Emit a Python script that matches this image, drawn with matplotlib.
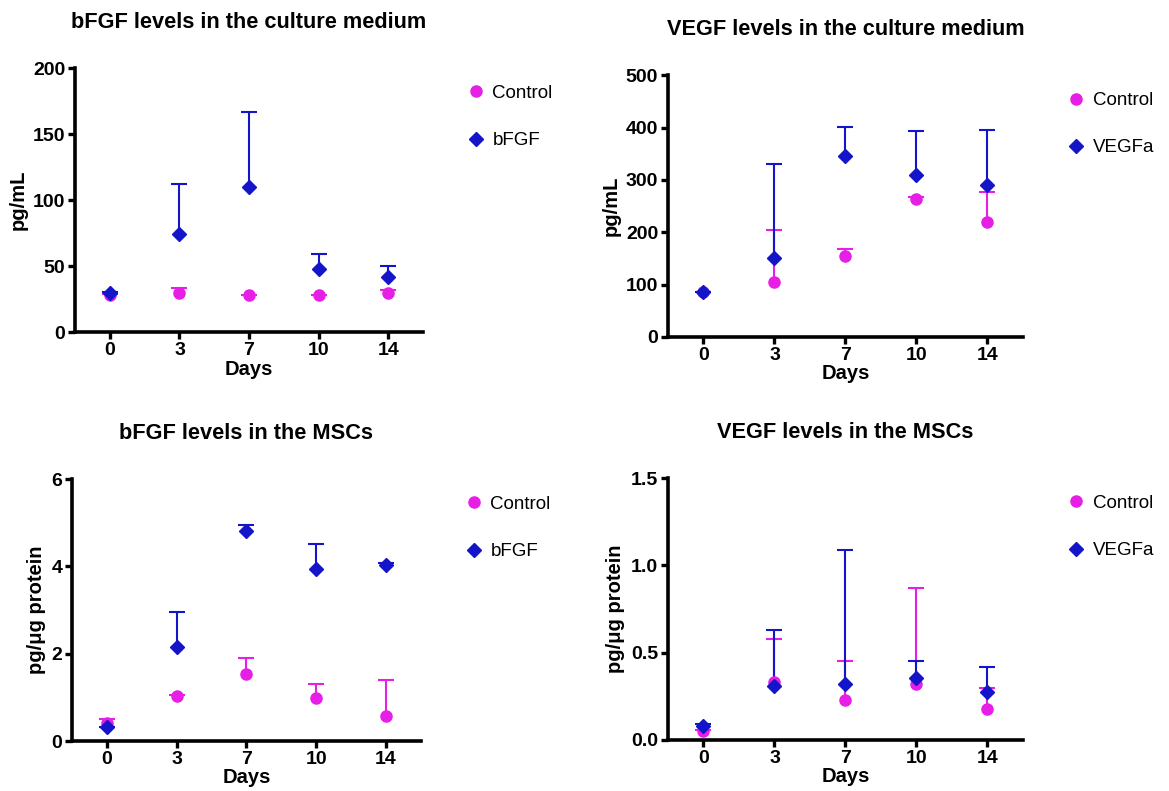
import numpy as np
import matplotlib
matplotlib.use("Agg")
import matplotlib.pyplot as plt

plt.rcParams['font.family'] = ['Liberation Sans', 'DejaVu Sans']

days = ["0", "3", "7", "10", "14"]

# bFGF in culture medium (pg/mL)
med_bfgf_ctrl = [28, 30, 28, 28, 30]
med_bfgf_ctrl_err = [1, 3.5, 0.5, 0.5, 2]
med_bfgf = [30, 74, 110, 48, 42]
med_bfgf_err = [0.5, 38, 57, 11.5, 8]

# VEGF in culture medium (pg/mL)
med_vegf_ctrl = [85, 105, 155, 263, 219]
med_vegf_ctrl_err = [1, 100, 13, 5, 57]
med_vegf = [85, 151, 345, 310, 291]
med_vegf_err = [1, 179, 56, 84, 104]

# bFGF in MSCs (pg/ug protein)
msc_bfgf_ctrl = [0.42, 1.03, 1.53, 0.99, 0.57]
msc_bfgf_ctrl_err = [0.08, 0.02, 0.38, 0.32, 0.82]
msc_bfgf = [0.31, 2.16, 4.82, 3.93, 4.04]
msc_bfgf_err = [0.02, 0.80, 0.13, 0.58, 0.04]

# VEGF in MSCs (pg/ug protein)
msc_vegf_ctrl = [0.054, 0.33, 0.23, 0.32, 0.18]
msc_vegf_ctrl_err = [0.005, 0.25, 0.22, 0.55, 0.12]
msc_vegf = [0.082, 0.31, 0.32, 0.354, 0.273]
msc_vegf_err = [0.01, 0.32, 0.77, 0.10, 0.145]

MAGENTA = '#E61EE6'
BLUE = '#1414C8'


def upper_errorbar(ax, x, y, err, fmt, color, ms, label):
    line, caps, bars = ax.errorbar(x, y, yerr=[np.zeros(len(y)), err], fmt=fmt, color=color,
                                   ms=ms, capsize=6, elinewidth=1.5, capthick=1.5)
    caps[0].set_visible(False)  # no cap at the bottom, only the upper half is shown
    line.set_label(label)
    return line


def draw_panel(ax, title, ylabel, ctrl, ctrl_err, treat, treat_err, treat_name, yticks, ylabels):
    x = np.arange(len(days))
    h1 = upper_errorbar(ax, x, ctrl, ctrl_err, 'o', MAGENTA, 8, "Control")
    h2 = upper_errorbar(ax, x, treat, treat_err, 'D', BLUE, 7.5, treat_name)
    ax.set_xlim(-0.5, 4.5)
    ax.set_ylim(yticks[0], yticks[-1])
    ax.set_xticks(x)
    ax.set_xticklabels(days, fontsize=14, fontweight='bold')
    ax.set_yticks(yticks)
    ax.set_yticklabels(ylabels, fontsize=14, fontweight='bold')
    ax.set_xlabel("Days", fontsize=14.5, fontweight='bold', labelpad=0.5)
    ax.set_ylabel(ylabel, fontsize=14.5, fontweight='bold', labelpad=4)
    ax.set_title(title, fontsize=15.7, fontweight='bold', pad=29)
    for s in ['top', 'right']:
        ax.spines[s].set_visible(False)
    for s in ['left', 'bottom']:
        ax.spines[s].set_linewidth(2.6)
    ax.tick_params(width=2.4, length=5, pad=2)
    ax.legend(handles=[h1, h2], loc='upper left', bbox_to_anchor=(1.07, 1.0), frameon=False,
              fontsize=13.5, labelspacing=1.6, handletextpad=0.3, handlelength=1.2)


fig = plt.figure(figsize=(11.69, 7.91), dpi=100)

ax1 = fig.add_axes([0.0642, 0.580, 0.2977, 0.334])
draw_panel(ax1, "bFGF levels in the culture medium", "pg/mL",
           med_bfgf_ctrl, med_bfgf_ctrl_err, med_bfgf, med_bfgf_err, "bFGF",
           [0, 50, 100, 150, 200], ["0", "50", "100", "150", "200"])

ax2 = fig.add_axes([0.5714, 0.574, 0.3037, 0.331])
draw_panel(ax2, "VEGF levels in the culture medium", "pg/mL",
           med_vegf_ctrl, med_vegf_ctrl_err, med_vegf, med_vegf_err, "VEGFa",
           [0, 100, 200, 300, 400, 500], ["0", "100", "200", "300", "400", "500"])

ax3 = fig.add_axes([0.0616, 0.0632, 0.2985, 0.3312])
draw_panel(ax3, "bFGF levels in the MSCs", "pg/\u03bcg protein",
           msc_bfgf_ctrl, msc_bfgf_ctrl_err, msc_bfgf, msc_bfgf_err, "bFGF",
           [0, 2, 4, 6], ["0", "2", "4", "6"])

ax4 = fig.add_axes([0.5714, 0.0645, 0.3037, 0.3312])
draw_panel(ax4, "VEGF levels in the MSCs", "pg/\u03bcg protein",
           msc_vegf_ctrl, msc_vegf_ctrl_err, msc_vegf, msc_vegf_err, "VEGFa",
           [0, 0.5, 1.0, 1.5], ["0.0", "0.5", "1.0", "1.5"])

fig.savefig("out.png", dpi=100)
